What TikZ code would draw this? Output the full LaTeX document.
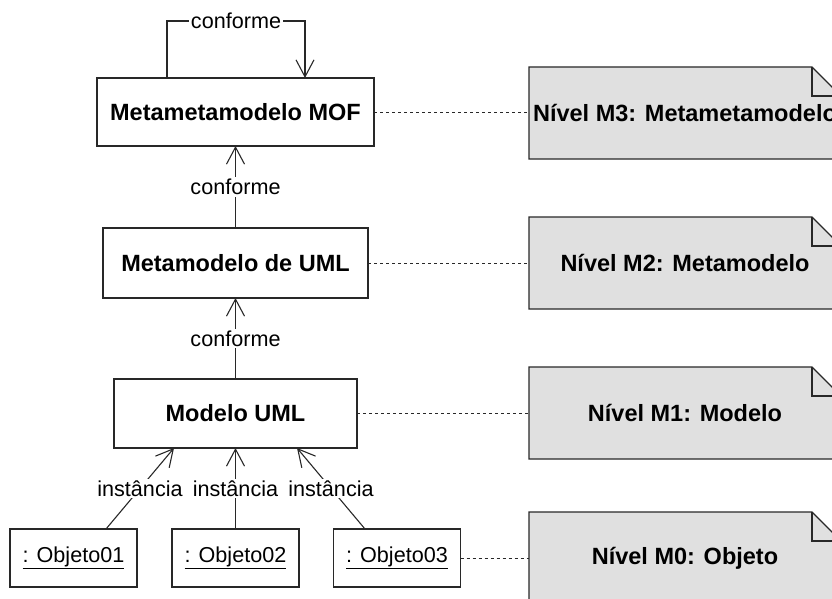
\documentclass[tikz,border=0pt]{standalone}
\usepackage{fontspec}
\setmainfont{Liberation Sans}
\usetikzlibrary{arrows.meta,calc,backgrounds}
\definecolor{edge}{RGB}{40,40,40}
\definecolor{notefill}{RGB}{224,224,224}
\begin{document}
\begin{tikzpicture}[x=1pt,y=1pt,
  every node/.style={inner sep=0pt, outer sep=0pt},
  reg/.style={font=\fontsize{21.6}{26}\selectfont},
  strong/.style={font=\fontsize{23.5}{28}\selectfont\bfseries},
  classbox/.style={draw=edge, line width=1.1pt, fill=white, strong},
  objbox/.style={draw=edge, line width=1.1pt, fill=white, reg,
    minimum width=127, minimum height=58},
  notebox/.style={minimum width=312, minimum height=92, strong},
  conn/.style={draw=edge, line width=1.1pt},
  tip/.style={conn, -{Straight Barb[length=17pt,width=18pt,line width=1.1pt]}},
  lbl/.style={reg, fill=white, inner sep=2pt},
  link/.style={draw=edge, line width=0.9pt, dash pattern=on 3pt off 3pt}
]
\useasboundingbox (0,0) rectangle (832,-599);
\clip (0,0) rectangle (832,-599);

% metamodel hierarchy
\node[classbox, minimum width=277, minimum height=68] (mof) at (235.5,-112) {Metametamodelo MOF};
\node[classbox, minimum width=265, minimum height=70] (uml) at (235.5,-263) {Metamodelo de UML};
\node[classbox, minimum width=243, minimum height=69] (mod) at (235.5,-413.5) {Modelo UML};

% instances
\node[objbox] (o1) at (73.5,-558) {\underline{: Objeto01}};
\node[objbox] (o2) at (235.5,-558) {\underline{: Objeto02}};
\node[objbox] (o3) at (397,-558) {\underline{: Objeto03}};

% level notes
\node[notebox] (m3) at (685,-113) {Nível M3: Metametamodelo};
\node[notebox] (m2) at (685,-263) {Nível M2: Metamodelo};
\node[notebox] (m1) at (685,-413) {Nível M1: Modelo};
\node[notebox] (m0) at (685,-558) {Nível M0: Objeto};

\begin{scope}[on background layer]
\foreach \n in {m3,m2,m1,m0}{
  \filldraw[fill=notefill, draw=edge, line width=1.1pt]
    (\n.north west) -- ($(\n.north east)+(-29,0)$) -- ($(\n.north east)+(0,-29)$)
    -- (\n.south east) -- (\n.south west) -- cycle;
  \draw[draw=edge, line width=1.1pt]
    ($(\n.north east)+(-29,0)$) -- ($(\n.north east)+(-29,-29)$) -- ($(\n.north east)+(0,-29)$);
}
\end{scope}

% conformance relations
\coordinate (la) at ($(mof.north)+(-68.5,0)$);
\coordinate (lb) at ($(mof.north)+(69.5,0)$);
\draw[tip] (la) -- ++(0,57) -- node[lbl]{conforme} ($(lb)+(0,57)$) -- (lb);
\draw[tip] (uml.north) -- node[lbl]{conforme} (mof.south);
\draw[tip] (mod.north) -- node[lbl]{conforme} (uml.south);

% instantiation relations
\draw[tip] ($(o1.north)+(32.5,0)$) -- node[lbl]{instância} ($(mod.south)+(-61.5,0)$);
\draw[tip] (o2.north) -- node[lbl]{instância} (mod.south);
\draw[tip] ($(o3.north)+(-32,0)$) -- node[lbl]{instância} ($(mod.south)+(61.5,0)$);

% links to level notes
\draw[link] (mof.east) -- (mof.east -| m3.west);
\draw[link] (uml.east) -- (uml.east -| m2.west);
\draw[link] (mod.east) -- (mod.east -| m1.west);
\draw[link] (o3.east) -- (o3.east -| m0.west);
\end{tikzpicture}
\end{document}
